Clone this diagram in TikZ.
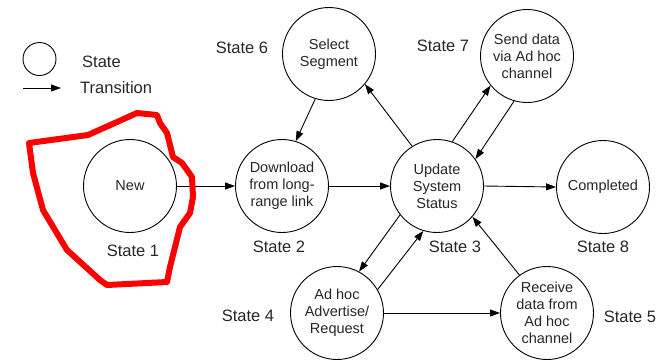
\documentclass[tikz,border=0pt]{standalone}
\usepackage{fontspec}
\setmainfont{Liberation Sans}
\usetikzlibrary{arrows.meta}
\definecolor{txt}{HTML}{262626}
\tikzset{
  st/.style={circle,draw=black,line width=0.9pt,minimum size=93pt,inner sep=0pt,align=center,
    font=\fontsize{14.5}{17}\selectfont,text=txt},
  lbl/.style={font=\fontsize{16.5}{19}\selectfont,text=txt,inner sep=0pt},
  tr/.style={draw=black,line width=0.9pt,-{Triangle[length=10pt,width=7pt]}},
  hand/.style={draw=red,line width=6pt,line join=round,line cap=round}
}
\begin{document}
\begin{tikzpicture}[x=1pt,y=-1pt]
\useasboundingbox (0,0) rectangle (670,360);
% legend
\node[circle,draw=black,line width=0.9pt,minimum size=33pt,inner sep=0pt] (lc) at (39.5,59) {};
\node[lbl,anchor=west] (ls) at (82,62) {State};
\coordinate (la) at (23,88);
\coordinate (lb) at (61,88);
\draw[tr] (la) -- (lb);
\node[lbl,anchor=west] (lt) at (80,88) {Transition};
% states
\node[st] (new) at (130,186) {New};
\node[st] (dl) at (282,186) {Download\\from long-\\range link};
\node[st] (upd) at (437,186) {Update\\System\\Status};
\node[st] (cmp) at (603,187) {Completed};
\node[st] (sel) at (329,54) {Select\\Segment};
\node[st] (snd) at (527,56) {Send data\\via Ad hoc\\channel};
\node[st] (adh) at (337,313) {Ad hoc\\Advertise/\\Request};
\node[st] (rcv) at (547,313) {Receive\\data from\\Ad hoc\\channel};
% labels
\node[lbl] (l1) at (133,251) {State 1};
\node[lbl] (l2) at (279,247) {State 2};
\node[lbl] (l3) at (455,247) {State 3};
\node[lbl] (l8) at (603,247) {State 8};
\node[lbl] (l6) at (242,48) {State 6};
\node[lbl] (l7) at (443,46) {State 7};
\node[lbl] (l4) at (248,316) {State 4};
\node[lbl] (l5) at (630,317) {State 5};
% transitions
\draw[tr] (new.east) -- (dl.west);
\draw[tr] (dl.east) -- (upd.west);
\draw[tr] (upd.east) -- (cmp.west);
\draw[tr] (sel.253) -- (dl.73);
\draw[tr] (upd.122) -- (sel.-40);
\draw[tr] (upd.71) -- (snd.219);
\draw[tr] (snd.254) -- (upd.35);
\draw[tr] (upd.218) -- (adh.62);
\draw[tr] (adh.30) -- (upd.253);
\draw[tr] (rcv.126) -- (upd.-41);
\draw[tr] (adh.east) -- (rcv.west);
% hand-drawn red outline
\draw[hand] (29,143) -- (88,135) -- (117,122) -- (137,113) -- (157,115) -- (160,123) -- (167,133)
  -- (173,157) -- (182,163) -- (192,177) -- (193,197) -- (190,213) -- (180,227) -- (175,247)
  -- (170,267) -- (167,282) -- (107,285) -- (100,280) -- (67,250) -- (43,210) -- (33,173) -- cycle;
\end{tikzpicture}
\end{document}
